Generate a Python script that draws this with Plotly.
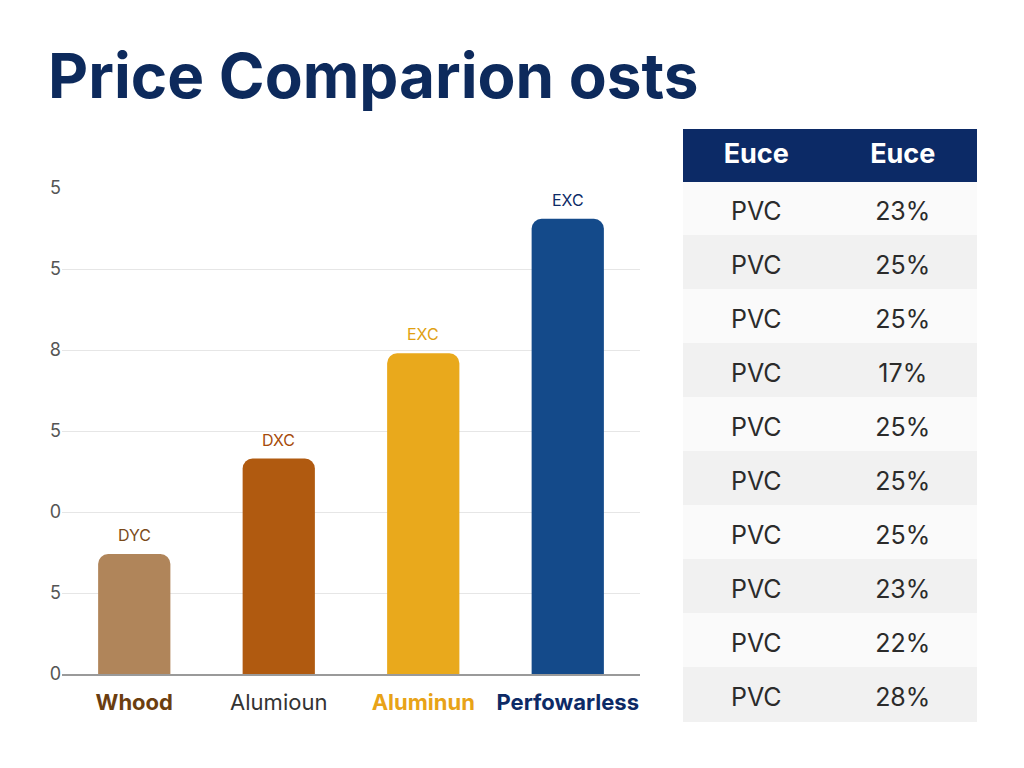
import plotly.graph_objects as go

# bar data
materials = ["Whood", "Alumioun", "Aluminun", "Perfowarless"]
prices = [7.4, 13.3, 19.8, 28.1]
bar_labels = ["DYC", "DXC", "EXC", "EXC"]
bar_colors = ["#b0855a", "#b05a10", "#e9a91c", "#144a8a"]
label_colors = ["#7a4a18", "#a64b0a", "#e0a010", "#0d2a66"]
tick_colors = ["#6b3e10", "#333333", "#e8a317", "#0d2a66"]
tick_bold = [True, False, True, True]

# y axis ticks (as printed in the picture)
y_tickvals = [0, 5, 10, 15, 20, 25, 30]
y_ticktext = ["0", "5", "0", "5", "8", "5", "5"]

# table data
header_cols = ["Euce", "Euce"]
table_names = ["PVC"] * 10
table_pct = ["23%", "25%", "25%", "17%", "25%", "25%", "25%", "23%", "22%", "28%"]

W, H = 1024, 768


# pixel -> paper fraction (measured from the rendered page)
def fx(px):
    return (px - 8) / 1024


def fy(py):
    return (765 - py) / 747


x_ticktext = []
for m, c, b in zip(materials, tick_colors, tick_bold):
    t = f"<b>{m}</b>" if b else m
    x_ticktext.append(f"<span style='color:{c}'>{t}</span>")

fig = go.Figure()
fig.add_trace(go.Bar(
    x=materials, y=prices,
    marker=dict(color=bar_colors, cornerradius=10, line=dict(width=0)),
    cliponaxis=False,
    hoverinfo="skip",
))

# value labels above the bars
for m, v, t, c in zip(materials, prices, bar_labels, label_colors):
    fig.add_annotation(
        x=m, y=v, text=t, showarrow=False,
        yanchor="middle", yshift=19,
        font=dict(size=16, color=c, family="Inter"),
    )

row_fill = ["#fafafa" if i % 2 == 0 else "#f1f1f1" for i in range(len(table_names))]
blank = [""] * len(table_names)
clear = "rgba(0,0,0,0)"

# table background + header
fig.add_trace(go.Table(
    domain=dict(x=[fx(683), fx(976)], y=[fy(722), fy(128)]),
    columnwidth=[1, 1],
    header=dict(
        values=[f"<b>{h}</b>" for h in header_cols],
        fill_color="#0c2a66",
        line_color="#0c2a66",
        align="center",
        height=52,
        font=dict(color="white", size=27, family="Inter"),
    ),
    cells=dict(
        values=[blank, blank],
        fill_color=[row_fill, row_fill],
        line_color=[row_fill, row_fill],
        height=54,
    ),
))

# table cell text, nudged down so it sits in the middle of each row
fig.add_trace(go.Table(
    domain=dict(x=[fx(683), fx(976)], y=[fy(736), fy(128)]),
    columnwidth=[1, 1],
    header=dict(values=["", ""], fill_color=clear, line_color=clear, height=64),
    cells=dict(
        values=[table_names, table_pct],
        fill_color=clear,
        line_color=clear,
        align="center",
        height=54,
        font=dict(color="#2b2b2b", size=25, family="Inter"),
    ),
))

fig.add_annotation(
    text="<b>Price Comparion osts</b>",
    xref="paper", yref="paper", x=fx(46), y=fy(75),
    xanchor="left", yanchor="middle", showarrow=False,
    font=dict(size=62, color="#0d2a5c", family="Inter"),
)

fig.update_layout(
    width=W, height=H,
    margin=dict(l=0, r=0, t=0, b=0),
    paper_bgcolor="white",
    plot_bgcolor="white",
    showlegend=False,
    bargap=0.5,
    font=dict(family="Inter"),
    xaxis=dict(
        domain=[fx(62), fx(640)],
        tickvals=materials, ticktext=x_ticktext,
        tickfont=dict(size=22, family="Inter"),
        ticklabelstandoff=8,
        showline=True, linecolor="#9a9a9a", linewidth=2,
        showgrid=False, ticks="",
    ),
    yaxis=dict(
        domain=[fy(673), fy(187)],
        range=[0, 30],
        tickvals=y_tickvals, ticktext=y_ticktext,
        tickfont=dict(size=18, color="#555555", family="Inter"),
        showgrid=True, gridcolor="#e6e6e6", gridwidth=1,
        zeroline=False, ticks="", showline=False,
    ),
)

fig.write_html("out.html")
